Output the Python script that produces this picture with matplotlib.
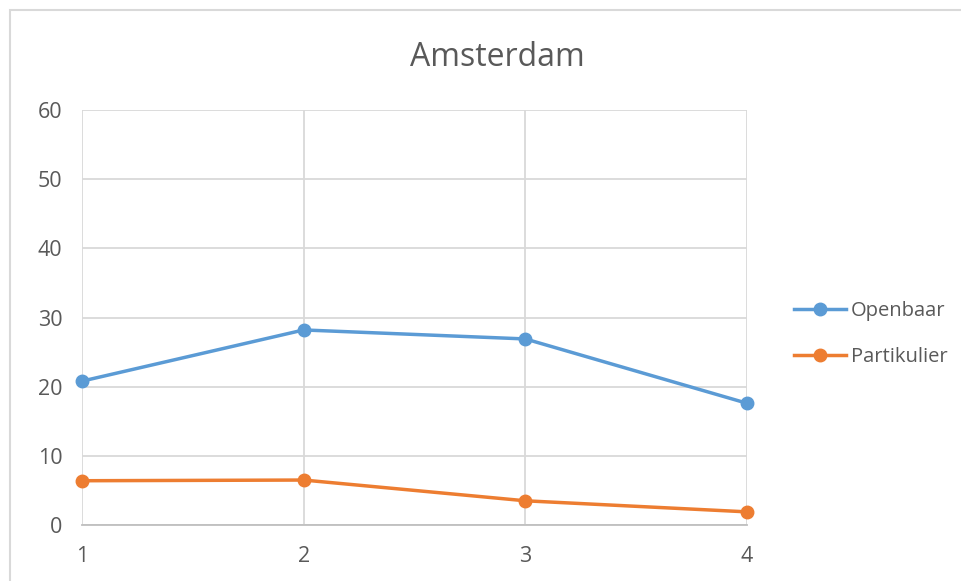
import matplotlib
matplotlib.use("Agg")
import matplotlib.pyplot as plt
from matplotlib.patches import Rectangle
from matplotlib.lines import Line2D

x_vals = [1, 2, 3, 4]
openbaar = [20.8, 28.2, 26.9, 17.6]
partikulier = [6.4, 6.5, 3.5, 1.9]
series_names = ["Openbaar", "Partikulier"]
title = "Amsterdam"

plt.rcParams['font.family'] = ['Open Sans', 'DejaVu Sans']
text_color = '#595959'
grid_color = '#D9D9D9'
blue = '#5B9BD5'
orange = '#ED7D31'

W, H = 962, 581
fig = plt.figure(figsize=(W/100, H/100), dpi=100)
fig.patches.append(Rectangle((10/W, -0.1), 1.1, 1 - 10/H + 0.1, transform=fig.transFigure,
                             fill=False, edgecolor='#D9D9D9', linewidth=1.5))

ax = fig.add_axes([82/W, 1 - 525/H, (747-82)/W, (525-110)/H])
ax.plot(x_vals, openbaar, color=blue, lw=2.5, marker='o', ms=9, label=series_names[0], clip_on=False, zorder=3)
ax.plot(x_vals, partikulier, color=orange, lw=2.5, marker='o', ms=9, label=series_names[1], clip_on=False, zorder=3)
ax.set_xlim(1, 4)
ax.set_ylim(0, 60)
ax.set_xticks(x_vals)
ax.set_yticks(range(0, 61, 10))
ax.grid(True, color=grid_color, lw=1.3)
ax.set_axisbelow(True)
for s in ['top', 'right', 'left']:
    ax.spines[s].set_visible(False)
ax.spines['bottom'].set_color('#BFBFBF')
ax.spines['bottom'].set_linewidth(1.3)
ax.tick_params(axis='both', length=0, colors=text_color, labelsize=15.5)
ax.tick_params(axis='y', pad=14)
ax.tick_params(axis='x', pad=15)

fig.text(497/W, 1 - 57/H, title, ha='center', va='center', fontsize=23, color=text_color)

leg = fig.legend(handles=[Line2D([], [], color=blue, lw=2.5, marker='o', ms=9),
                          Line2D([], [], color=orange, lw=2.5, marker='o', ms=9)],
                 labels=series_names, loc='center left', bbox_to_anchor=(776/W, 1 - 334/H),
                 frameon=False, fontsize=14.5, labelcolor=text_color, handlelength=2.6,
                 handletextpad=0.2, labelspacing=1.3)

fig.savefig("out.png", dpi=100)
